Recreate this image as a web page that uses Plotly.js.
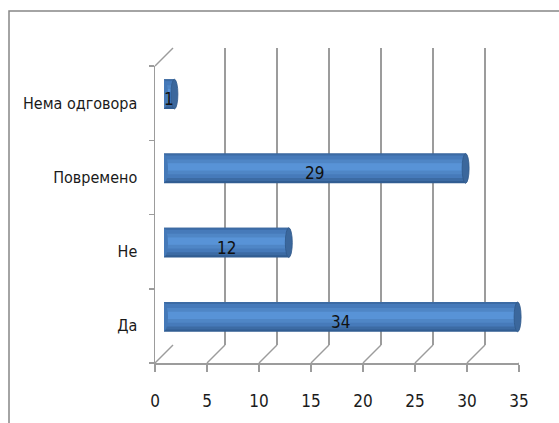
<!DOCTYPE html>
<html>
<head>
<meta charset="utf-8">
<script src="https://cdn.plot.ly/plotly-3.0.1.min.js"></script>
<style>
html,body{margin:0;padding:0;background:#fff;}
#chart{width:559px;height:423px;}
#chart text{font-stretch:condensed !important;}
</style>
</head>
<body>
<div id="chart"></div>
<script>
// ---- data ----
const categories = ['Да', 'Не', 'Повремено', 'Нема одговора'];
const values = [34, 12, 29, 1];
const xTicks = [0, 5, 10, 15, 20, 25, 30, 35];

// ---- layout geometry (pixels) ----
const W = 559, H = 423;
const L = 155, R = 22, T = 48, B = 60;
const PW = W - L - R, PH = H - T - B;   // 382 x 315
const DEPTH = 18;                        // 3D depth offset
const MID = DEPTH / 2;
const FONT = "'DejaVu Sans Condensed', 'DejaVu Sans', sans-serif";
const GRID = '#9c9c9c';
const HALF = 0.2;                        // half bar thickness (category units)

const fx = [0, (PW - DEPTH) / PW];
const fy = [0, (PH - DEPTH) / PH];
const bx = [DEPTH / PW, 1];
const by = [DEPTH / PH, 1];
const mx = [MID / PW, (PW - MID) / PW];
const my = [MID / PH, (PH - MID) / PH];

// nested bands (outer first) mimicking a cylinder gradient
const bands = [
  {lo: -0.20, hi: 0.20, color: '#315d92'},
  {lo: -0.17, hi: 0.20, color: '#3c6ba4'},
  {lo: -0.13, hi: 0.175, color: '#467aba'},
  {lo: -0.08, hi: 0.12, color: '#4f86c6'},
  {lo: -0.03, hi: 0.07, color: '#5893d7'}
];

const traces = [
  {type: 'scatter', x: values, y: categories, xaxis: 'x', yaxis: 'y',
   mode: 'markers', marker: {opacity: 0}, hoverinfo: 'skip', showlegend: false},
  {type: 'scatter', x: values, y: categories, xaxis: 'x2', yaxis: 'y2',
   mode: 'markers', marker: {opacity: 0}, hoverinfo: 'skip', showlegend: false}
];
bands.forEach(s => traces.push({
  type: 'bar', orientation: 'h', x: values, y: categories,
  xaxis: 'x3', yaxis: 'y3', width: s.hi - s.lo, offset: s.lo,
  marker: {color: s.color, line: {width: 0}},
  hoverinfo: 'skip', showlegend: false
}));

const shapes = [
  {type: 'rect', xref: 'paper', yref: 'paper',
   x0: (9 - L) / PW, x1: 1.3, y0: -0.5, y1: 1 + (T - 11) / PH,
   line: {color: '#868686', width: 1.5}},
  {type: 'line', xref: 'paper', yref: 'paper', x0: fx[0], y0: fy[1], x1: bx[0], y1: by[1],
   line: {color: GRID, width: 1.5}}
];
xTicks.forEach(v => shapes.push({
  type: 'line', xref: 'x', yref: 'paper', layer: 'below',
  xsizemode: 'pixel', xanchor: v, x0: 0, x1: DEPTH,
  ysizemode: 'pixel', yanchor: 0, y0: 0, y1: DEPTH,
  line: {color: GRID, width: 1.5}
}));
// rounded left ends and darker right caps of the cylinders
categories.forEach((c, i) => {
  shapes.push({type: 'circle', xref: 'x3', yref: 'y3', layer: 'above',
    xsizemode: 'pixel', xanchor: 0, x0: -4, x1: 4, y0: i - HALF + 0.01, y1: i + HALF - 0.01,
    fillcolor: '#4579b8', line: {width: 0}});
  shapes.push({type: 'circle', xref: 'x3', yref: 'y3', layer: 'above',
    xsizemode: 'pixel', xanchor: values[i], x0: -3.5, x1: 3.5, y0: i - HALF, y1: i + HALF,
    fillcolor: '#3b679c', line: {color: '#30598a', width: 0.8}});
});

const annotations = categories.map((c, i) => ({
  xref: 'x3', yref: 'y3', x: values[i] / 2, y: c, text: String(values[i]),
  showarrow: false, yshift: -5, font: {family: FONT, size: 17, color: '#111'}
}));

const layout = {
  width: W, height: H,
  margin: {l: L, r: R, t: T, b: B, pad: 0},
  paper_bgcolor: '#ffffff', plot_bgcolor: 'rgba(0,0,0,0)',
  showlegend: false, barmode: 'overlay',
  font: {family: FONT, size: 17, color: '#1a1a1a'},
  xaxis: {domain: fx, anchor: 'y', range: [0, 35], tickvals: xTicks,
    showgrid: false, zeroline: false, showline: true, linecolor: GRID, linewidth: 1.5,
    ticks: 'outside', ticklen: 7, tickcolor: GRID, tickwidth: 1.5, ticklabelstandoff: 15,
    tickfont: {family: FONT, size: 17, color: '#1a1a1a'}, fixedrange: true},
  yaxis: {domain: fy, anchor: 'x', type: 'category', categoryarray: categories,
    categoryorder: 'array', range: [-0.5, categories.length - 0.5], tickson: 'boundaries',
    showgrid: false, zeroline: false, showline: true, linecolor: GRID, linewidth: 1.5,
    ticks: 'outside', ticklen: 5, tickcolor: GRID, tickwidth: 1.5, ticklabelstandoff: 13,
    tickfont: {family: FONT, size: 16, color: '#1a1a1a'}, fixedrange: true},
  xaxis2: {domain: bx, anchor: 'y2', range: [0, 35], tickvals: xTicks,
    showgrid: true, gridcolor: GRID, gridwidth: 1.5, zeroline: false, showline: false,
    showticklabels: false, ticks: '', fixedrange: true},
  yaxis2: {domain: by, anchor: 'x2', type: 'category', categoryarray: categories,
    categoryorder: 'array', range: [-0.5, categories.length - 0.5],
    showgrid: false, zeroline: false, showline: false, showticklabels: false, ticks: '', fixedrange: true},
  xaxis3: {domain: mx, anchor: 'y3', range: [0, 35], visible: false, fixedrange: true},
  yaxis3: {domain: my, anchor: 'x3', type: 'category', categoryarray: categories,
    categoryorder: 'array', range: [-0.5, categories.length - 0.5], visible: false, fixedrange: true},
  shapes: shapes,
  annotations: annotations
};

Plotly.newPlot('chart', traces, layout, {displayModeBar: false, staticPlot: true});
</script>
</body>
</html>
